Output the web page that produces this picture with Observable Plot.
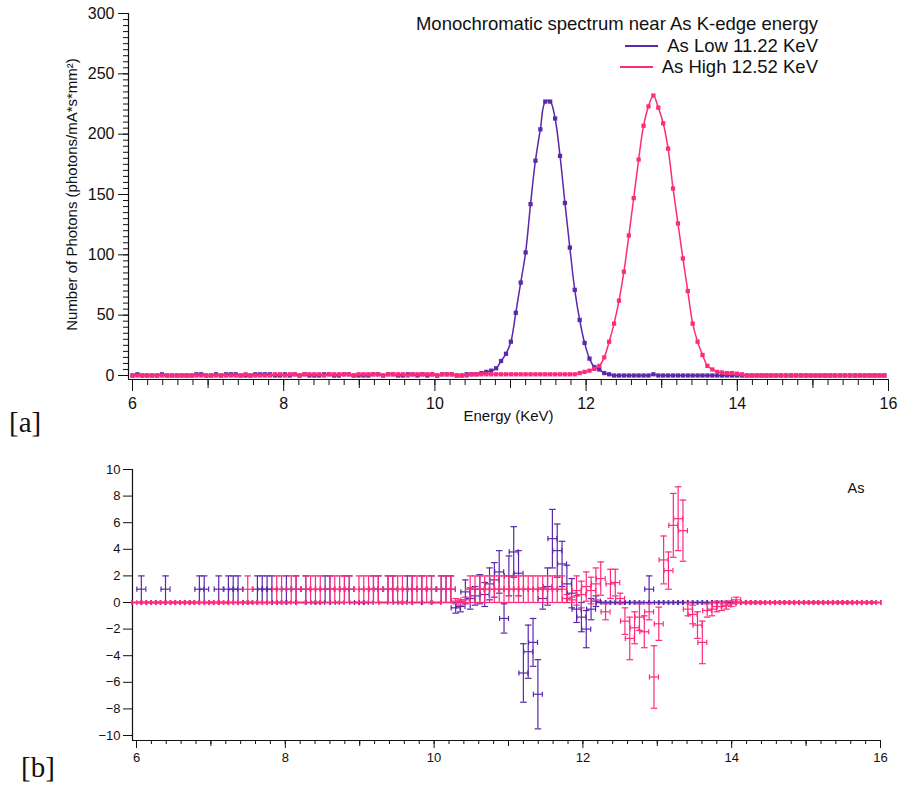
<!DOCTYPE html>
<html><head><meta charset="utf-8">
<script src="https://cdn.jsdelivr.net/npm/d3@7"></script>
<script src="https://cdn.jsdelivr.net/npm/@observablehq/plot@0.6"></script>
<style>
body{margin:0;background:#fff;}
#wrap{position:relative;width:899px;height:789px;overflow:hidden;font-family:"Liberation Sans",Arial,sans-serif;color:#111;}
#top,#bot{position:absolute;left:0;}
#top{top:0px} #bot{top:440px}
.tag{position:absolute;font-family:"Liberation Serif","DejaVu Serif",serif;font-size:29px;line-height:1;color:#111}
#legend{position:absolute;right:81px;top:13px;text-align:right;font-size:18.5px;line-height:21.5px;color:#111;white-space:nowrap}
.sw{display:inline-block;width:33px;height:2px;vertical-align:middle;margin-right:9px;position:relative;top:-1px}
</style></head><body>
<div id="wrap">
  <div id="top"></div>
  <div id="bot"></div>
  <div id="legend"></div>
  <div class="tag" style="left:9px;top:408px">[a]</div>
  <div class="tag" style="left:21px;top:753px">[b]</div>
</div>
<script>
// ---------- data ----------
const energy = [
6.000,6.065,6.130,6.195,6.260,6.325,6.390,6.455,6.520,6.585,
6.650,6.715,6.780,6.845,6.910,6.975,7.040,7.105,7.170,7.235,
7.300,7.365,7.430,7.495,7.560,7.625,7.690,7.755,7.820,7.885,
7.950,8.015,8.080,8.145,8.210,8.275,8.340,8.405,8.470,8.535,
8.600,8.665,8.730,8.795,8.860,8.925,8.990,9.055,9.120,9.185,
9.250,9.315,9.380,9.445,9.510,9.575,9.640,9.705,9.770,9.835,
9.900,9.965,10.030,10.095,10.160,10.225,10.290,10.355,10.420,10.485,
10.550,10.615,10.680,10.745,10.810,10.875,10.940,11.005,11.070,11.135,
11.200,11.265,11.330,11.395,11.460,11.525,11.590,11.655,11.720,11.785,
11.850,11.915,11.980,12.045,12.110,12.175,12.240,12.305,12.370,12.435,
12.500,12.565,12.630,12.695,12.760,12.825,12.890,12.955,13.020,13.085,
13.150,13.215,13.280,13.345,13.410,13.475,13.540,13.605,13.670,13.735,
13.800,13.865,13.930,13.995,14.060,14.125,14.190,14.255,14.320,14.385,
14.450,14.515,14.580,14.645,14.710,14.775,14.840,14.905,14.970,15.035,
15.100,15.165,15.230,15.295,15.360,15.425,15.490,15.555,15.620,15.685,
15.750,15.815,15.880,15.945];

// As Low 11.22 KeV : photons
const lowCounts = [
0,1,0,0,0,0,1,0,0,0, 0,0,0,1,1,0,0,1,0,1, 1,1,0,0,0,1,1,1,1,0,
0,1,0,1,0,1,0,0,0,1, 1,0,0,1,1,0,0,0,0,1, 1,0,1,1,0,0,1,1,0,1,
0,1,0,1,1,1,0,0,1,1, 1,2,3,4,6,12,18,28,52,77,
102,142,178,204,227,227,213,182,143,106, 71,46,27,14,7,5,2,1,0,0,
0,0,0,0,0,0,1,0,0,0, 0,0,0,0,0,0,0,0,0,0, 0,0,0,0,0,0,0,0,0,0,
0,0,0,0,0,0,0,0,0,0, 0,0,0,0,0,0,0,0,0,0, 0,0,0,0];
// As High 12.52 KeV : photons
const highCounts = [
0,0,0,0,0,0,0,0,0,0, 0,0,0,0,0,0,0,0,0,0, 0,0,0,1,0,0,0,0,0,1,
1,0,1,1,0,1,1,1,1,0, 1,1,1,1,1,0,1,1,1,1, 1,0,1,1,1,1,0,1,1,1,
1,1,0,1,1,1,0,0,0,1, 1,1,1,1,1,1,1,1,1,1, 1,1,1,1,1,1,1,1,1,1,
1,2,3,4,5.5,8,15,28,43,62, 86,116,147,179,207,223,232,222,209,188,
155,126,97,70,43,28,17,8,5,3, 2.5,2,2,1.5,1,0,0,0,0,0,
0,0,0,0,0,0,0,0,0,0, 0,0,0,0,0,0,0,0,0,0, 0,0,0,0];

// residuals (panel b) and their vertical errors
const lowResid = [
0,1,0,0,0,0,1,0,0,0, 0,0,0,1,1,0,0,1,0,1, 1,1,0,0,0,1,1,1,1,0,
0,1,0,1,0,1,0,0,0,1, 1,0,0,1,1,0,0,0,0,1, 1,0,1,1,0,0,1,1,0,1,
0,1,0,1,1,1,-0.4,-0.3,0.8,0.3, 0.5,1.0,0.6,1.4,1.7,2.3,-1.2,2.0,3.8,2.2,
-5.3,-3.7,-3.0,-6.9,0.3,1.2,4.8,3.9,2.9,1.4, 0.7,-0.5,-1.1,-2.0,-0.5,0.1,0,0,0,0,
0,0,0,0,0,0,1,0,0,0, 0,0,0,0,0,0,0,0,0,0, 0,0,0,0,0,0,0,0,0,0,
0,0,0,0,0,0,0,0,0,0, 0,0,0,0,0,0,0,0,0,0, 0,0,0,0];
const lowErr = [
0,1,0,0,0,0,1,0,0,0, 0,0,0,1,1,0,0,1,0,1, 1,1,0,0,0,1,1,1,1,0,
0,1,0,1,0,1,0,0,0,1, 1,0,0,1,1,0,0,0,0,1, 1,0,1,1,0,0,1,1,0,1,
0,1,0,1,1,1,0.4,0.4,0.9,0.8, 0.7,1.1,0.9,1.2,1.3,1.6,1.1,1.5,1.9,1.7,
2.2,2.0,1.8,2.6,0.8,1.4,2.2,2.0,1.7,1.4, 1.1,1.0,1.1,1.4,0.8,0.4,0,0,0,0,
0,0,0,0,0,0,1,0,0,0, 0,0,0,0,0,0,0,0,0,0, 0,0,0,0,0,0,0,0,0,0,
0,0,0,0,0,0,0,0,0,0, 0,0,0,0,0,0,0,0,0,0, 0,0,0,0];
const highResid = [
0,0,0,0,0,0,0,0,0,0, 0,0,0,0,0,0,0,0,0,0, 0,0,0,1,0,0,0,0,0,1,
1,0,1,1,0,1,1,1,1,0, 1,1,1,1,1,0,1,1,1,1, 1,0,1,1,1,1,0,1,1,1,
1,1,0,1,1,1,0.1,0.0,0.2,1, 1,1,1,1,1,1,1,1,1,1, 1,1,1,1,1,1,1,1,1,0.3,
0.2,0.9,0.6,1.2,0.9,1.4,1.8,-0.7,1.4,1.5, 0.3,-1.4,-2.7,-1.9,-1.1,-2.2,-0.7,-5.6,-1.6,3.2,
2.4,5.8,6.3,5.4,-0.5,-0.9,-1.7,-3.0,-0.6,-0.5, -0.3,-0.3,-0.2,-0.1,0.2,0,0,0,0,0,
0,0,0,0,0,0,0,0,0,0, 0,0,0,0,0,0,0,0,0,0, 0,0,0,0];
const highErr = [
0,0,0,0,0,0,0,0,0,0, 0,0,0,0,0,0,0,0,0,0, 0,0,0,1,0,0,0,0,0,1,
1,0,1,1,0,1,1,1,1,0, 1,1,1,1,1,0,1,1,1,1, 1,0,1,1,1,1,0,1,1,1,
1,1,0,1,1,1,0.2,0.2,0.2,1, 1,1,1,1,1,1,1,1,1,1, 1,1,1,1,1,1,1,1,1,0.3,
0.2,1.1,1.0,1.1,1.0,1.2,1.25,0.6,1.1,1.0, 0.4,1.0,1.6,1.2,1.0,1.2,0.6,2.35,1.25,1.8,
1.4,2.4,2.4,2.3,0.5,0.7,1.0,1.6,0.5,0.5, 0.4,0.3,0.3,0.2,0.2,0,0,0,0,0,
0,0,0,0,0,0,0,0,0,0, 0,0,0,0,0,0,0,0,0,0, 0,0,0,0];
const binHalfWidth = 0.06;   // horizontal error (KeV)

const seriesNames = ["As Low 11.22 KeV", "As High 12.52 KeV"];
const seriesColors = ["#5a28aa", "#ff2a7b"];
const legendTitle = "Monochromatic spectrum near As K-edge energy";
const xLabel = "Energy (KeV)";
const yLabel = "Number of Photons (photons/mA*s*mm²)";
const panelBLabel = "As";

const xDomain = [6, 16];
const yDomainA = [0, 300];
const yDomainB = [-10, 10];
const xTickLabels = [6, 8, 10, 12, 14, 16];
const xMidTicks = [7, 9, 11, 13, 15];
const yTickLabelsA = [0, 50, 100, 150, 200, 250, 300];
const yTickLabelsB = [-10, -8, -6, -4, -2, 0, 2, 4, 6, 8, 10];
const xMinorTicks = d3.range(30, 81).map(d => d / 5);
const yMinorTicksA = d3.range(0, 301, 5);

// ---------- tables ----------
const tables = [
  energy.map((e, i) => ({e, c: lowCounts[i], r: lowResid[i], s: lowErr[i]})),
  energy.map((e, i) => ({e, c: highCounts[i], r: highResid[i], s: highErr[i]}))
];

const hCap = {draw(ctx, size) { const r = Math.sqrt(size / Math.PI); ctx.moveTo(-r, 0); ctx.lineTo(r, 0); }};
const vCap = {draw(ctx, size) { const r = Math.sqrt(size / Math.PI); ctx.moveTo(0, -r); ctx.lineTo(0, r); }};

const font = "Liberation Sans, Arial, Helvetica, sans-serif";

// ---------- panel a ----------
const marksA = [
  Plot.axisY({ticks: yMinorTicksA, tickSize: 5, tickFormat: () => "", label: null}),
  Plot.axisY({ticks: yTickLabelsA, tickSize: 10, tickPadding: 4, fontSize: 16, label: null}),
  Plot.axisX({ticks: xMinorTicks, tickSize: 6, tickFormat: () => "", label: null}),
  Plot.axisX({ticks: xMidTicks, tickSize: 9, tickFormat: () => "", label: null}),
  Plot.axisX({ticks: xTickLabels, tickSize: 12, tickPadding: 6, fontSize: 16, label: null}),
  Plot.ruleX([xDomain[0]], {dx: -4, stroke: "#111", strokeWidth: 1.2}),
  Plot.ruleY([yDomainA[0]], {dy: 4, stroke: "#111", strokeWidth: 1.2}),
  Plot.text([xLabel], {frameAnchor: "bottom", dy: 41, fontSize: 15, fill: "#111"}),
  Plot.text([yLabel], {frameAnchor: "left", rotate: -90, dx: -56, dy: -2, textAnchor: "middle", fontSize: 15, fill: "#111"})
];
tables.forEach((t, i) => {
  marksA.push(Plot.line(t, {x: "e", y: "c", stroke: seriesColors[i], strokeWidth: 1.5, curve: "catmull-rom"}));
  marksA.push(Plot.dot(t, {x: "e", y: "c", fill: seriesColors[i], symbol: "square", r: 2.4}));
});

const plotA = Plot.plot({
  width: 899, height: 440,
  marginLeft: 128, marginRight: 11, marginTop: 13, marginBottom: 61,
  x: {domain: xDomain, insetLeft: 4, label: null},
  y: {domain: yDomainA, insetBottom: 4, label: null},
  style: {fontFamily: font, fontSize: "16px", color: "#111", background: "white", overflow: "visible"},
  marks: marksA
});
document.getElementById("top").appendChild(plotA);

// ---------- panel b ----------
const marksB = [
  Plot.axisY({ticks: yTickLabelsB, tickSize: 9, tickPadding: 3, fontSize: 13, label: null}),
  Plot.axisX({ticks: xMinorTicks, tickSize: 4, tickFormat: () => "", label: null}),
  Plot.axisX({ticks: xMidTicks, tickSize: 6, tickFormat: () => "", label: null}),
  Plot.axisX({ticks: xTickLabels, tickSize: 8, tickPadding: 4, fontSize: 13, label: null}),
  Plot.ruleX([xDomain[0]], {dx: -4, stroke: "#111", strokeWidth: 1.2}),
  Plot.ruleY([yDomainB[0]], {dy: 5, stroke: "#111", strokeWidth: 1.2}),
  Plot.text([panelBLabel], {frameAnchor: "top-right", dx: -16, dy: 13, fontSize: 14.5, fill: "#111"})
];
tables.forEach((t, i) => {
  const col = seriesColors[i];
  const o = {stroke: col, strokeWidth: 1.2};
  marksB.push(Plot.ruleX(t, {x: "e", y1: d => d.r - d.s, y2: d => d.r + d.s, ...o}));
  marksB.push(Plot.ruleY(t, {y: "r", x1: d => d.e - binHalfWidth, x2: d => d.e + binHalfWidth, ...o}));
  marksB.push(Plot.dot(t, {x: "e", y: d => d.r - d.s, symbol: hCap, r: 3.3, fill: "none", ...o}));
  marksB.push(Plot.dot(t, {x: "e", y: d => d.r + d.s, symbol: hCap, r: 3.3, fill: "none", ...o}));
  marksB.push(Plot.dot(t, {x: d => d.e - binHalfWidth, y: "r", symbol: vCap, r: 2.6, fill: "none", ...o}));
  marksB.push(Plot.dot(t, {x: d => d.e + binHalfWidth, y: "r", symbol: vCap, r: 2.6, fill: "none", ...o}));
});

const plotB = Plot.plot({
  width: 899, height: 349,
  marginLeft: 132, marginRight: 19, marginTop: 29, marginBottom: 49,
  x: {domain: xDomain, insetLeft: 4, label: null},
  y: {domain: yDomainB, insetBottom: 5, label: null},
  style: {fontFamily: font, fontSize: "13px", color: "#111", background: "white", overflow: "visible"},
  marks: marksB
});
document.getElementById("bot").appendChild(plotB);

// ---------- legend ----------
const lg = document.getElementById("legend");
lg.innerHTML = `<div>${legendTitle}</div>` + seriesNames.map((n, i) =>
  `<div><span class="sw" style="background:${seriesColors[i]}"></span>${n}</div>`).join("");
</script>
</body></html>
